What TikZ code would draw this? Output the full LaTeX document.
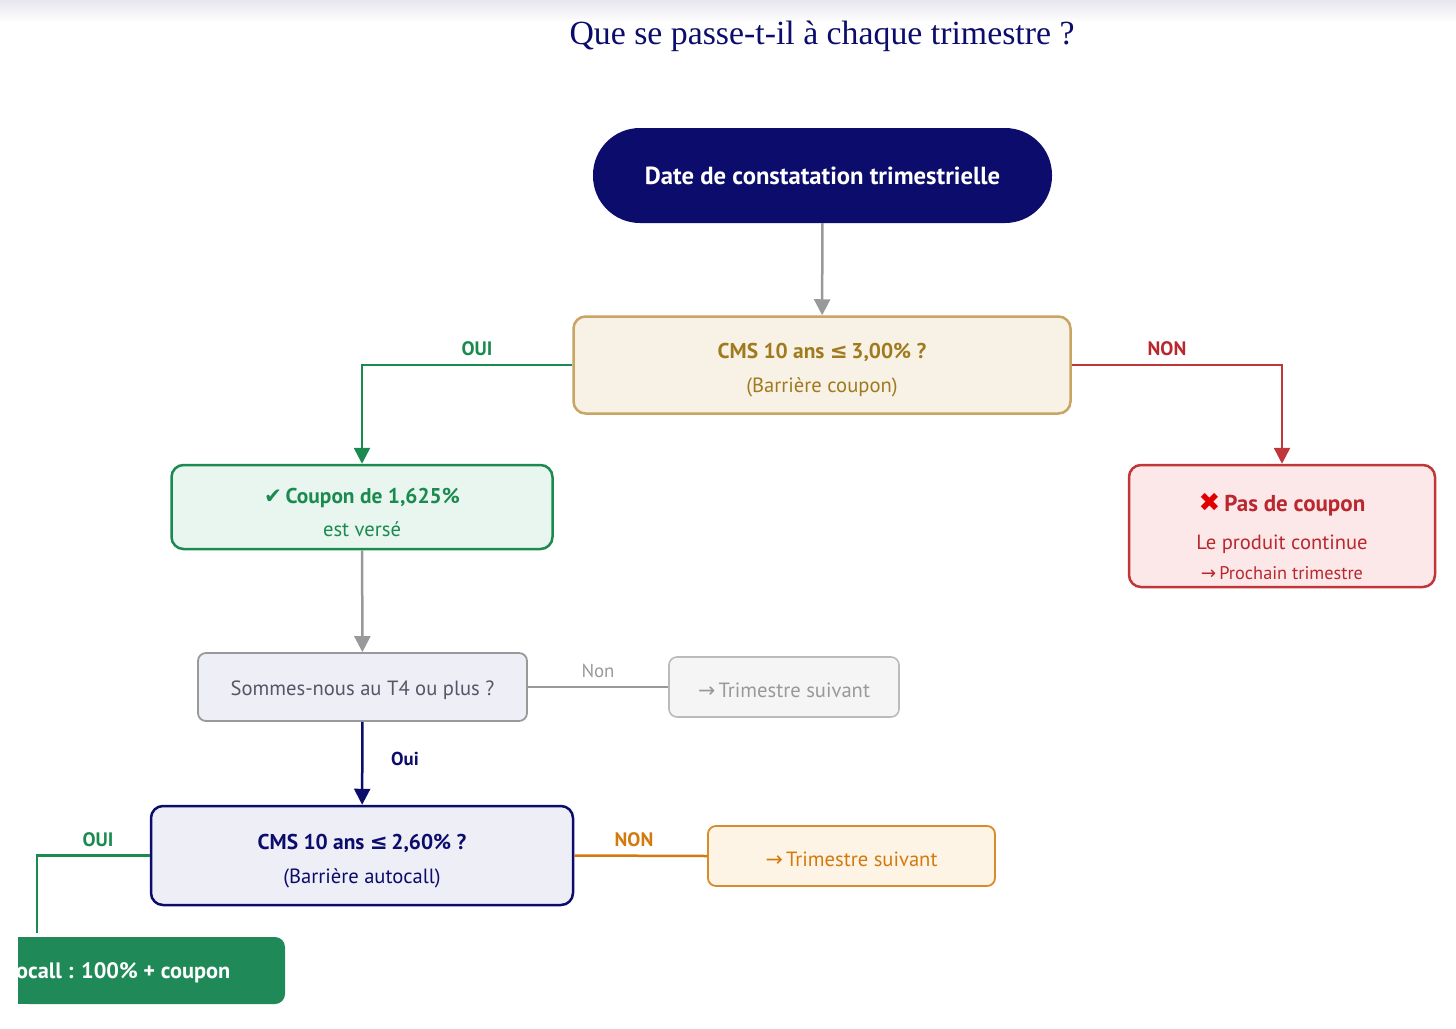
\documentclass[tikz,border=0pt]{standalone}
\usepackage{fontspec}
\setmainfont{PT Sans}
\newfontfamily\symf{DejaVu Sans}
\newfontfamily\titlef{Liberation Serif}
\usetikzlibrary{arrows.meta}
\definecolor{navy}{HTML}{0B0C6B}
\definecolor{goldT}{HTML}{A07A1E}
\definecolor{goldB}{HTML}{C9A463}
\definecolor{goldF}{HTML}{F8F1E6}
\definecolor{grn}{HTML}{1A8A4F}
\definecolor{grnF}{HTML}{E9F6F0}
\definecolor{grnD}{HTML}{1F8A58}
\definecolor{redB}{HTML}{C0363A}
\definecolor{redT}{HTML}{B8282E}
\definecolor{redF}{HTML}{FCE8E9}
\definecolor{redX}{HTML}{E00000}
\definecolor{gline}{HTML}{999999}
\definecolor{tfF}{HTML}{EEEEF7}
\definecolor{tfT}{HTML}{555566}
\definecolor{gbF}{HTML}{F5F5F5}
\definecolor{gbB}{HTML}{BBBBBB}
\definecolor{gbT}{HTML}{999999}
\definecolor{orT}{HTML}{D27A0E}
\definecolor{orB}{HTML}{D98A2B}
\definecolor{orF}{HTML}{FEF4E5}
\definecolor{topg}{HTML}{E6E6EF}
\tikzset{
  box/.style={rectangle, rounded corners=12pt, line width=2.5pt, inner sep=0pt},
  conn/.style={line width=2.5pt},
  tip/.style={-{Triangle[width=16pt,length=16pt]}},
  lbl/.style={font=\fontsize{19.5}{22}\selectfont\bfseries, inner sep=0pt},
  ttl/.style={font=\fontsize{21.4}{25}\selectfont\bfseries, inner sep=0pt},
  sub/.style={font=\fontsize{20.6}{24}\selectfont, inner sep=0pt},
}
\begin{document}
\begin{tikzpicture}[x=1pt,y=-1pt]
\useasboundingbox (0,0) rectangle (1456,1028);
\shade[top color=topg, bottom color=white, draw=none] (0,0) rectangle (1456,22);
\node[font=\titlef\fontsize{33.8}{38}\selectfont, text=navy, inner sep=0pt] (title) at (822,36) {Que se passe-t-il à chaque trimestre ?};

% start
\node[fill=navy, rounded corners=47pt, minimum width=459pt, minimum height=95pt, inner sep=0pt,
  font=\fontsize{24.7}{28}\selectfont\bfseries, text=white] (start) at (822.5,175.5) {Date de constatation trimestrielle};

% Q1
\node[box, draw=goldB, fill=goldF, minimum width=497pt, minimum height=97pt] (q1) at (822,365) {};
\node[ttl, text=goldT] (q1a) at (822,352) {CMS 10 ans {\symf\bfseries ≤}\,3,00\% ?};
\node[sub, text=goldT] (q1b) at (822,387) {(Barrière coupon)};

% coupon
\node[box, draw=grn, fill=grnF, minimum width=381pt, minimum height=84pt] (coup) at (362,507) {};
\node[ttl, text=grn] (coupa) at (362,498) {{\symf\bfseries ✔}\,Coupon de 1,625\%};
\node[sub, text=grn] (coupb) at (362,529) {est versé};

% no coupon
\node[box, draw=redB, fill=redF, minimum width=306pt, minimum height=122pt] (noc) at (1282,526) {};
\node[font=\fontsize{23}{27}\selectfont\bfseries, text=redT, inner sep=0pt] (noca) at (1282,505) {{\symf\bfseries\fontsize{26}{28}\selectfont\color{redX}✖}\,Pas de coupon};
\node[sub, text=redT] (nocb) at (1282,544) {Le produit continue};
\node[font=\fontsize{18.3}{22}\selectfont, text=redT, inner sep=0pt] (nocc) at (1282,573) {{\symf →}\,Prochain trimestre};

% T4
\node[box, rounded corners=8pt, line width=1.8pt, draw=gline, fill=tfF, minimum width=329pt, minimum height=68pt] (t4) at (362.5,687) {};
\node[sub, text=tfT] (t4a) at (362.5,690) {Sommes-nous au T4 ou plus ?};

% gray next
\node[box, rounded corners=8pt, line width=1.6pt, draw=gbB, fill=gbF, minimum width=230pt, minimum height=60pt] (gn) at (784,687) {};
\node[sub, text=gbT] (gna) at (784,690) {{\symf →}\,Trimestre suivant};

% Q2
\node[box, draw=navy, fill=tfF, minimum width=422pt, minimum height=99pt] (q2) at (362,855.5) {};
\node[ttl, text=navy] (q2a) at (362,843) {CMS 10 ans {\symf\bfseries ≤}\,2,60\% ?};
\node[sub, text=navy] (q2b) at (362,878) {(Barrière autocall)};

% orange next
\node[box, rounded corners=8pt, line width=1.8pt, draw=orB, fill=orF, minimum width=287pt, minimum height=60pt] (on) at (851.5,856) {};
\node[sub, text=orT] (ona) at (851.5,859) {{\symf →}\,Trimestre suivant};

% autocall
\fill[grnD, rounded corners=10pt] (18,937) rectangle (285,1004);
\fill[grnD] (18,937) rectangle (40,1004);
\node[font=\fontsize{22.3}{26}\selectfont\bfseries, text=white, anchor=west, inner sep=0pt] (auto) at (16,973) {ocall : 100\% + coupon};
\coordinate (autoend) at (37,933);

% connectors
\draw[conn, gline, tip] (start) -- (q1);
\draw[conn, grn, tip] (q1.west) -| (coup.north);
\draw[conn, redB, tip] (q1.east) -| (noc.north);
\node[lbl, text=grn] (oui1) at (477,349) {OUI};
\node[lbl, text=redT] (non1) at (1167,349) {NON};
\draw[conn, gline, tip] (coup) -- (t4);
\draw[line width=1.8pt, gline] (t4.east) -- (gn.west);
\node[font=\fontsize{18.8}{22}\selectfont, text=gbT, inner sep=0pt] (non2) at (598,671) {Non};
\draw[conn, navy, tip] (t4) -- (q2);
\node[font=\fontsize{18.7}{22}\selectfont\bfseries, text=navy, inner sep=0pt] (oui2) at (405,759) {Oui};
\draw[conn, orT] (q2.east) -- (on.west);
\node[lbl, text=orT] (non3) at (634,840) {NON};
\draw[conn, grn] (q2.west) -| (autoend);
\node[lbl, text=grn] (oui3) at (98,840) {OUI};
\end{tikzpicture}
\end{document}
